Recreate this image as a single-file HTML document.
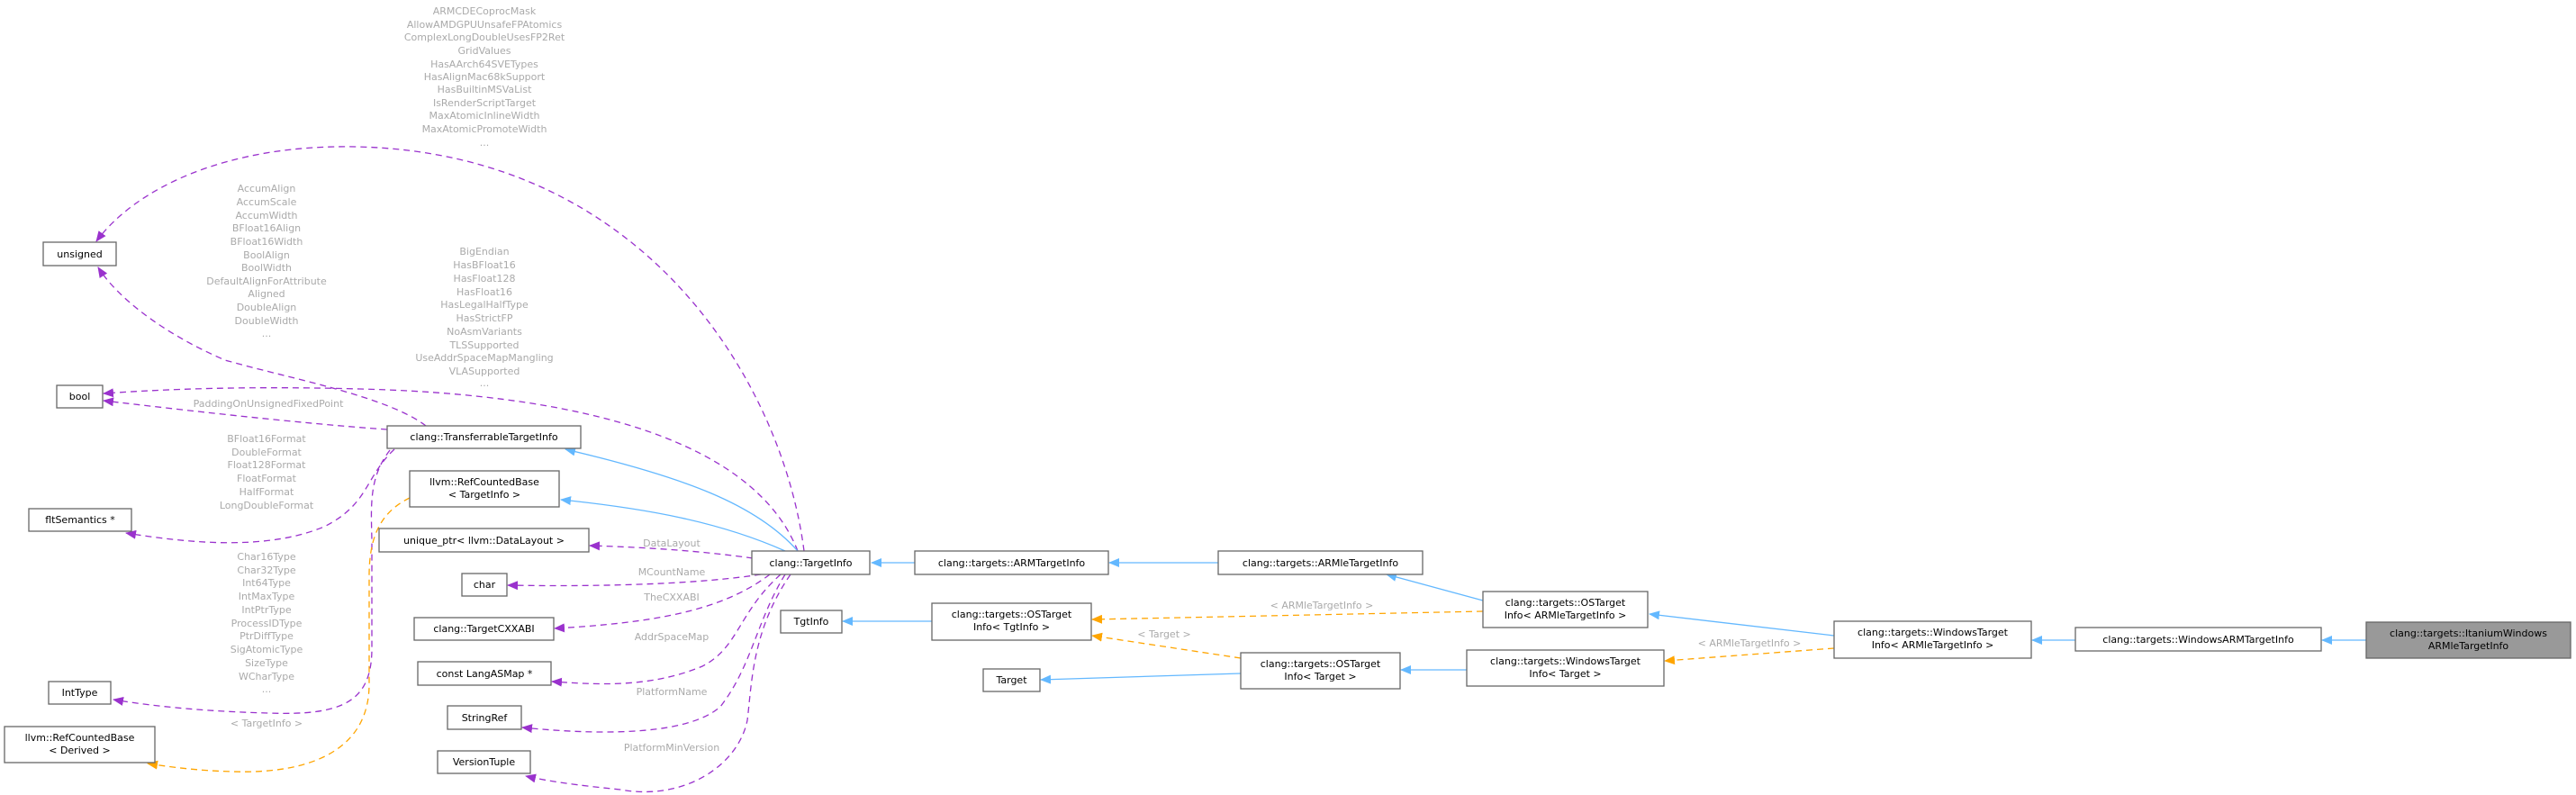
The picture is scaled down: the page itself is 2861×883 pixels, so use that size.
<!DOCTYPE html>
<html><head><meta charset="utf-8"><style>
html,body{margin:0;padding:0;background:#fff;}
svg{display:block;}
text{font-family:"DejaVu Sans","Liberation Sans",sans-serif;font-size:11px;}
.n rect{fill:#fff;stroke:#666;stroke-width:1.3;}
.n text{fill:#000;text-anchor:middle;}
.l{fill:#aaa;text-anchor:middle;}
.p{fill:none;stroke:#9a32cd;stroke-width:1.3;stroke-dasharray:7,5;}
.o{fill:none;stroke:#ffa500;stroke-width:1.3;stroke-dasharray:7,5;}
.b{fill:none;stroke:#63b8ff;stroke-width:1.3;}
</style></head><body>
<svg width="2861" height="883" viewBox="0 0 2861 883" xmlns="http://www.w3.org/2000/svg">
<defs>
<marker id="mp" markerWidth="12" markerHeight="10" refX="11" refY="5" orient="auto" markerUnits="userSpaceOnUse"><path d="M0,0 L12,5 L0,10 z" fill="#9a32cd"/></marker>
<marker id="mo" markerWidth="12" markerHeight="10" refX="11" refY="5" orient="auto" markerUnits="userSpaceOnUse"><path d="M0,0 L12,5 L0,10 z" fill="#ffa500"/></marker>
<marker id="mb" markerWidth="12" markerHeight="10" refX="11" refY="5" orient="auto" markerUnits="userSpaceOnUse"><path d="M0,0 L12,5 L0,10 z" fill="#63b8ff"/></marker>
</defs>

<!-- purple edges -->
<path class="p" marker-end="url(#mp)" d="M893 612 C870 430, 720 170, 396 163 C250 160, 150 210, 107 268"/>
<path class="p" marker-end="url(#mp)" d="M473 473 C430 440, 320 420, 250 400 C180 370, 130 330, 109 297"/>
<path class="p" marker-end="url(#mp)" d="M886 612 C850 520, 720 440, 400 432 C250 428, 160 434, 115 437"/>
<path class="p" marker-end="url(#mp)" d="M430 477 C330 470, 200 455, 115 445"/>
<path class="p" marker-end="url(#mp)" d="M438 499 C405 530, 410 560, 360 585 C300 610, 220 605, 140 592"/>
<path class="p" marker-end="url(#mp)" d="M433 500 C410 530, 412 560, 413 600 L413 720 C413 780, 380 795, 298 792 C220 790, 160 783, 126 777"/>
<path class="p" marker-end="url(#mp)" d="M836 620 C780 612, 720 608, 655 606"/>
<path class="p" marker-end="url(#mp)" d="M845 638 C780 648, 680 652, 564 650"/>
<path class="p" marker-end="url(#mp)" d="M855 638 C800 680, 720 692, 616 698"/>
<path class="p" marker-end="url(#mp)" d="M867 638 C820 680, 820 720, 780 740 C720 765, 660 760, 613 757"/>
<path class="p" marker-end="url(#mp)" d="M872 638 C840 690, 835 740, 800 785 C760 820, 650 815, 580 808"/>
<path class="p" marker-end="url(#mp)" d="M878 638 C835 700, 835 760, 830 800 C820 850, 760 890, 689 877 C640 872, 610 868, 584 862"/>
<!-- blue -->
<path class="b" marker-end="url(#mb)" d="M886 612 C840 560, 760 530, 628 499"/>
<path class="b" marker-end="url(#mb)" d="M872 612 C800 580, 720 565, 623 555"/>
<path class="b" marker-end="url(#mb)" d="M1016 625 L968 625"/>
<path class="b" marker-end="url(#mb)" d="M1353 625 L1232 625"/>
<path class="b" marker-end="url(#mb)" d="M1647 667 L1540 638"/>
<path class="b" marker-end="url(#mb)" d="M1035 690 L936 690"/>
<path class="b" marker-end="url(#mb)" d="M1378 748 L1156 755"/>
<path class="b" marker-end="url(#mb)" d="M1629 744 L1556 744"/>
<path class="b" marker-end="url(#mb)" d="M2037 706 L1832 682"/>
<path class="b" marker-end="url(#mb)" d="M2305 711 L2257 711"/>
<path class="b" marker-end="url(#mb)" d="M2628 711 L2579 711"/>
<!-- orange -->
<path class="o" marker-end="url(#mo)" d="M455 553 C420 570, 410 600, 410 640 L410 760 C410 830, 350 860, 258 857 C220 856, 190 852, 164 848"/>
<path class="o" marker-end="url(#mo)" d="M1647 679 L1213 688"/>
<path class="o" marker-end="url(#mo)" d="M1378 731 L1213 706"/>
<path class="o" marker-end="url(#mo)" d="M2037 720 L1849 734"/>

<!-- labels -->
<g class="l">
<text x="538" y="16">ARMCDECoprocMask</text><text x="538" y="31">AllowAMDGPUUnsafeFPAtomics</text><text x="538" y="45">ComplexLongDoubleUsesFP2Ret</text><text x="538" y="60">GridValues</text><text x="538" y="75">HasAArch64SVETypes</text><text x="538" y="89">HasAlignMac68kSupport</text><text x="538" y="103">HasBuiltinMSVaList</text><text x="538" y="118">IsRenderScriptTarget</text><text x="538" y="132">MaxAtomicInlineWidth</text><text x="538" y="147">MaxAtomicPromoteWidth</text><text x="538" y="162">...</text>
<text x="296" y="213">AccumAlign</text><text x="296" y="228">AccumScale</text><text x="296" y="243">AccumWidth</text><text x="296" y="257">BFloat16Align</text><text x="296" y="272">BFloat16Width</text><text x="296" y="287">BoolAlign</text><text x="296" y="301">BoolWidth</text><text x="296" y="316">DefaultAlignForAttribute</text><text x="296" y="330">Aligned</text><text x="296" y="345">DoubleAlign</text><text x="296" y="360">DoubleWidth</text><text x="296" y="374">...</text>
<text x="538" y="283">BigEndian</text><text x="538" y="298">HasBFloat16</text><text x="538" y="313">HasFloat128</text><text x="538" y="328">HasFloat16</text><text x="538" y="342">HasLegalHalfType</text><text x="538" y="357">HasStrictFP</text><text x="538" y="372">NoAsmVariants</text><text x="538" y="387">TLSSupported</text><text x="538" y="401">UseAddrSpaceMapMangling</text><text x="538" y="416">VLASupported</text><text x="538" y="429">...</text>
<text x="298" y="452">PaddingOnUnsignedFixedPoint</text>
<text x="296" y="491">BFloat16Format</text><text x="296" y="506">DoubleFormat</text><text x="296" y="520">Float128Format</text><text x="296" y="535">FloatFormat</text><text x="296" y="550">HalfFormat</text><text x="296" y="565">LongDoubleFormat</text>
<text x="296" y="622">Char16Type</text><text x="296" y="637">Char32Type</text><text x="296" y="651">Int64Type</text><text x="296" y="666">IntMaxType</text><text x="296" y="681">IntPtrType</text><text x="296" y="696">ProcessIDType</text><text x="296" y="710">PtrDiffType</text><text x="296" y="725">SigAtomicType</text><text x="296" y="740">SizeType</text><text x="296" y="755">WCharType</text><text x="296" y="769">...</text>
<text x="296" y="807">&lt; TargetInfo &gt;</text>
<text x="746" y="607">DataLayout</text>
<text x="746" y="639">MCountName</text>
<text x="746" y="667">TheCXXABI</text>
<text x="746" y="711">AddrSpaceMap</text>
<text x="746" y="772">PlatformName</text>
<text x="746" y="834">PlatformMinVersion</text>
<text x="1468" y="676">&lt; ARMleTargetInfo &gt;</text>
<text x="1293" y="708">&lt; Target &gt;</text>
<text x="1943" y="718">&lt; ARMleTargetInfo &gt;</text>
</g>

<!-- nodes -->
<g class="n">
<rect x="48" y="269" width="81" height="26"/><text x="88.5" y="286">unsigned</text>
<rect x="63" y="428" width="51" height="25"/><text x="88.5" y="444">bool</text>
<rect x="32" y="565" width="114" height="25"/><text x="89" y="581">fltSemantics *</text>
<rect x="54" y="757" width="69" height="25"/><text x="88.5" y="773">IntType</text>
<rect x="5" y="807" width="167" height="40"/><text x="88.5" y="823">llvm::RefCountedBase</text><text x="88.5" y="837">&lt; Derived &gt;</text>
<rect x="430" y="473" width="215" height="25"/><text x="537.5" y="489">clang::TransferrableTargetInfo</text>
<rect x="455" y="523" width="166" height="40"/><text x="538" y="539">llvm::RefCountedBase</text><text x="538" y="553">&lt; TargetInfo &gt;</text>
<rect x="421" y="587" width="233" height="26"/><text x="537.5" y="604">unique_ptr&lt; llvm::DataLayout &gt;</text>
<rect x="513" y="637" width="50" height="25"/><text x="538" y="653">char</text>
<rect x="460" y="686" width="155" height="25"/><text x="537.5" y="702">clang::TargetCXXABI</text>
<rect x="464" y="735" width="148" height="26"/><text x="538" y="752">const LangASMap *</text>
<rect x="497" y="784" width="82" height="26"/><text x="538" y="801">StringRef</text>
<rect x="486" y="834" width="103" height="25"/><text x="537.5" y="850">VersionTuple</text>
<rect x="835" y="612" width="131" height="26"/><text x="900.5" y="629">clang::TargetInfo</text>
<rect x="1016" y="612" width="215" height="26"/><text x="1123.5" y="629">clang::targets::ARMTargetInfo</text>
<rect x="1353" y="612" width="227" height="26"/><text x="1466.5" y="629">clang::targets::ARMleTargetInfo</text>
<rect x="867" y="678" width="68" height="25"/><text x="901" y="694">TgtInfo</text>
<rect x="1035" y="670" width="177" height="41"/><text x="1123.5" y="686">clang::targets::OSTarget</text><text x="1123.5" y="700">Info&lt; TgtInfo &gt;</text>
<rect x="1092" y="743" width="63" height="25"/><text x="1123.5" y="759">Target</text>
<rect x="1378" y="725" width="177" height="40"/><text x="1466.5" y="741">clang::targets::OSTarget</text><text x="1466.5" y="755">Info&lt; Target &gt;</text>
<rect x="1647" y="657" width="183" height="40"/><text x="1738.5" y="673">clang::targets::OSTarget</text><text x="1738.5" y="687">Info&lt; ARMleTargetInfo &gt;</text>
<rect x="1629" y="722" width="219" height="40"/><text x="1738.5" y="738">clang::targets::WindowsTarget</text><text x="1738.5" y="752">Info&lt; Target &gt;</text>
<rect x="2037" y="690" width="219" height="41"/><text x="2146.5" y="706">clang::targets::WindowsTarget</text><text x="2146.5" y="720">Info&lt; ARMleTargetInfo &gt;</text>
<rect x="2305" y="697" width="273" height="26"/><text x="2441.5" y="714">clang::targets::WindowsARMTargetInfo</text>
<rect x="2628" y="691" width="227" height="40" style="fill:#999"/><text x="2741.5" y="707">clang::targets::ItaniumWindows</text><text x="2741.5" y="721">ARMleTargetInfo</text>
</g>
</svg>
</body></html>
